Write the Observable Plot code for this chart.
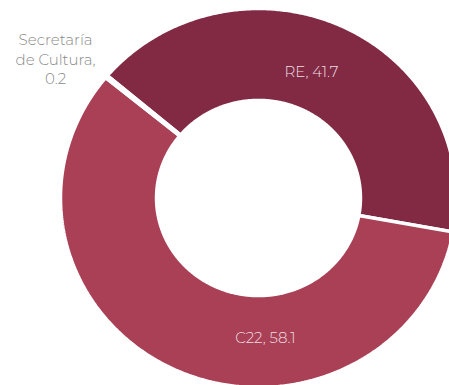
<!DOCTYPE html>
<html>
<head>
<meta charset="utf-8">
<script src="https://cdn.jsdelivr.net/npm/d3@7"></script>
<script src="https://cdn.jsdelivr.net/npm/@observablehq/plot@0.6"></script>
<style>
  html, body { margin: 0; padding: 0; background: #fff; }
  #chart svg { display: block; }
</style>
</head>
<body>
<div id="chart"></div>
<script>
// ---- data ----
const categories = ["RE", "C22", "Secretaría de Cultura"];
const values = [41.7, 58.1, 0.2];
const displayNames = ["RE", "C22", "Secretaría\nde Cultura"];
const colors = ["#822a44", "#a94056", "#b38e5d"];

// ---- layout config (not data) ----
const W = 449, H = 385;
const cx = 258, cy = 197.5, rx = 198, ry = 189.5; // ellipse center / radii in px
const inner = 0.515;                               // hole ratio
const startDeg = 310.2;                            // first slice angle (clockwise from 12 o'clock)
const labelAngleDeg = [22.0, 177.3, 305.7];
const labelRadius = [0.714, 0.742, 1.262];

const pie = d3.pie().sort(null).value(d => d)
  .startAngle(startDeg * Math.PI / 180)
  .endAngle(startDeg * Math.PI / 180 + 2 * Math.PI);
const arcs = pie(values);

// polygon vertices for each slice in unit (data) space
const pts = [];
arcs.forEach((a, i) => {
  const n = Math.max(2, Math.ceil((a.endAngle - a.startAngle) / (Math.PI / 360)));
  const ring = [];
  for (let k = 0; k <= n; k++) {
    const t = a.startAngle + (a.endAngle - a.startAngle) * k / n;
    ring.push({cat: categories[i], x: Math.sin(t), y: -Math.cos(t)});
  }
  for (let k = n; k >= 0; k--) {
    const t = a.startAngle + (a.endAngle - a.startAngle) * k / n;
    ring.push({cat: categories[i], x: inner * Math.sin(t), y: -inner * Math.cos(t)});
  }
  ring.push({...ring[0]});
  pts.push(...ring);
});

const labels = categories.map((c, i) => {
  const t = labelAngleDeg[i] * Math.PI / 180;
  return {
    cat: c,
    text: i < 2 ? `${displayNames[i]}, ${values[i]}` : `${displayNames[i]},\n${values[i]}`,
    x: labelRadius[i] * Math.sin(t),
    y: -labelRadius[i] * Math.cos(t),
    inside: i < 2
  };
});

const font = "Montserrat, 'Open Sans', Lato, sans-serif";

const chart = Plot.plot({
  width: W,
  height: H,
  margin: 0,
  x: {domain: [-cx / rx, (W - cx) / rx], range: [0, W], axis: null},
  y: {domain: [-cy / ry, (H - cy) / ry], range: [0, H], axis: null},
  color: {domain: categories, range: colors},
  marks: [
    Plot.line(pts, {
      x: "x", y: "y", z: "cat", fill: "cat",
      stroke: "#ffffff", strokeWidth: 3.5, strokeLinejoin: "miter", curve: "linear"
    }),
    Plot.text(labels.filter(d => d.inside), {
      x: "x", y: "y", text: "text",
      fill: "#eedde2", fontSize: 15, fontWeight: 300, fontFamily: font
    }),
    Plot.text(labels.filter(d => !d.inside), {
      x: "x", y: "y", text: "text",
      fill: "#8a8a8a", fontSize: 15, fontWeight: 300, fontFamily: font, lineHeight: 1.3
    })
  ]
});

document.getElementById("chart").appendChild(chart);
</script>
</body>
</html>
